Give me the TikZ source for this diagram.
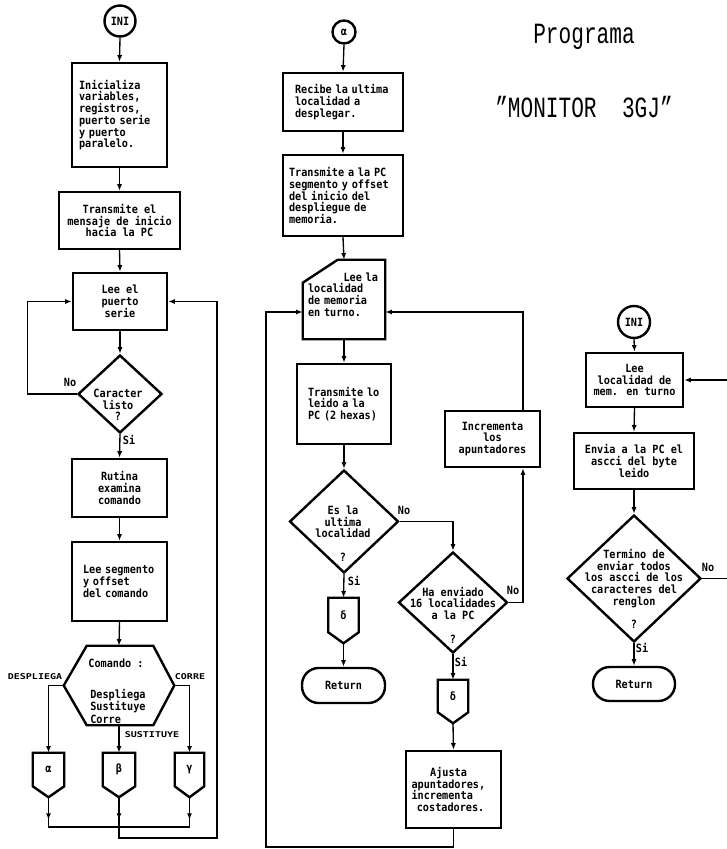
\documentclass[tikz,border=0pt]{standalone}
\usepackage{fontspec}
\newfontfamily\dotfont[FakeStretch=0.9]{DejaVu Sans Mono}
\newfontfamily\labfont[FakeStretch=1.25]{DejaVu Sans Mono}
\newfontfamily\twfont[FakeStretch=0.72]{Liberation Mono}
\usetikzlibrary{arrows.meta,calc,shapes.geometric,decorations.markings}
\tikzset{
  shp/.style={line width=1.8pt},
  con/.style={line width=1pt},
  arr/.style={con,-{Latex[length=5pt,width=3.8pt]}},
  midarr/.style={postaction={decorate},decoration={markings,mark=at position #1 with {\arrow{Latex[length=5pt,width=3.8pt]}}}},
  txt/.style={inner sep=0pt,font={\dotfont\bfseries\fontsize{8.5pt}{8.8pt}\selectfont}},
  tight/.style={inner sep=0pt,font={\dotfont\bfseries\fontsize{8.5pt}{7pt}\selectfont}},
  lab/.style={inner sep=0pt,font={\labfont\bfseries\fontsize{6pt}{7pt}\selectfont}},
  title/.style={inner sep=0pt,font={\twfont\fontsize{22pt}{24pt}\selectfont}},
  box/.style 2 args={draw,shp,rectangle,txt,minimum width=#1*0.75pt,minimum height=#2*0.75pt},
  dia/.style 2 args={draw,shp,diamond,inner sep=0pt,minimum width=#1*0.75pt,minimum height=#2*0.75pt},
  circ/.style={draw,shp,circle,txt,minimum size=#1*0.75pt},
  term/.style 2 args={draw,shp,rounded corners=12.5pt,txt,minimum width=#1*0.75pt,minimum height=#2*0.75pt},
  blank/.style 2 args={txt,minimum width=#1*0.75pt,minimum height=#2*0.75pt},
}
\newcommand\pentout[1]{\draw[shp] (#1.north west) -- (#1.north east) -- (#1.south east) -- ($(#1.south)+(0,11)$) -- (#1.south west) -- cycle;}
\begin{document}
\begin{tikzpicture}[x=0.75pt,y=-0.75pt]
\fill[white] (0,0) rectangle (726,849);
\useasboundingbox (0,0) rectangle (726,849);

% ---------------- left column ----------------
\node[circ=31] (ini1) at (120,21) {INI};
\node[box={95}{104},align=left,text width=81*0.75pt] (b1) at (119.5,115) {Inicializa\\variables,\\registros,\\puerto serie\\y puerto\\paralelo.};
\node[box={121}{57},align=center] (b2) at (119.5,220.5) {Transmite el\\mensaje de inicio\\hacia la PC};
\node[box={94}{57},align=center] (b3) at (120,301.5) {Lee el\\puerto\\serie};
\node[dia={84}{78}] (d1) at (120,394) {};
\node[txt,align=center] (d1t) at (118,405) {Caracter\\listo\\?};
\node[box={95}{58},align=center] (b4) at (119.5,488) {Rutina\\examina\\comando};
\node[box={95}{79},align=left,text width=73*0.75pt] (b5) at (119.5,581.5) {Lee segmento\\y offset\\del comando};
\node[blank={110}{79}] (hx) at (119,685.5) {};
\draw[shp] (hx.west) -- ($(hx.north west)+(23,0)$) -- ($(hx.north east)+(-21,0)$) -- (hx.east) -- ($(hx.south east)+(-21,0)$) -- ($(hx.south west)+(23,0)$) -- cycle;
\node[txt] (hxa) at (116,663) {Comando :};
\node[tight,align=left,anchor=west] (hxb) at (90,706) {Despliega\\Sustituye\\Corre};
\node[blank={31}{33}] (pa) at (48.5,769.5) {α};
\pentout{pa}
\node[blank={32}{33}] (pb) at (119,769.5) {β};
\pentout{pb}
\node[blank={29}{33}] (pc) at (189.5,769.5) {γ};
\pentout{pc}
\node[lab] (lD) at (35,677) {DESPLIEGA};
\node[lab] (lC) at (190,677) {CORRE};
\node[lab] (lS) at (152,735) {SUSTITUYE};
\node[txt] (no1) at (70,382) {No};
\node[txt] (si1) at (129,440) {Si};

\draw[arr] (ini1.south) -- (b1.north);
\draw[arr] (b1.south) -- (b2.north);
\draw[arr] (b2.south) -- (b3.north);
\draw[arr] (b3.south) -- (d1.north);
\draw[arr] (d1.west) -- ++(-49,0) |- (b3.west);
\draw[arr] (d1.south) -- (b4.north);
\draw[arr] (b4.south) -- (b5.north);
\draw[arr] (b5.south) -- (hx.north);
\draw[arr] (hx.west) -| (pa.north);
\draw[arr] (hx.east) -| (pc.north);
\draw[arr] (hx.south) -- (pb.north);
\coordinate (jl) at (48.5,827);
\coordinate (jr) at (189.5,827);
\coordinate (jb) at (119,838);
\coordinate (jrr) at (217,838);
\draw[con,midarr=17pt] ($(pa.south)+(0,11)$) -- (jl) -- (jr);
\draw[con,midarr=17pt] ($(pc.south)+(0,11)$) -- (jr);
\draw[arr,midarr=17pt] ($(pb.south)+(0,11)$) -- (jb) -- (jrr) |- (b3.east);

% ---------------- middle column ----------------
\node[circ=23] (ma) at (344,32) {α};
\node[box={120}{58},align=left,text width=96*0.75pt] (mb1) at (343,102) {Recibe la ultima\\localidad a\\desplegar.};
\node[box={120}{81},align=left,text width=108*0.75pt] (mb2) at (343,195.5) {Transmite a la PC\\segmento y offset\\del inicio del\\despliegue de\\memoria.};
\node[blank={82}{79}] (card) at (344,299.5) {};
\draw[shp] (card.south west) -- (card.south east) -- (card.north east) -- ($(card.north west)+(35,0)$) -- ($(card.north west)+(0,23)$) -- cycle;
\node[txt,align=left,text width=70*0.75pt] (cardt) at (343,294.5) {\hspace*{\fill}Lee la\\localidad\\de memoria\\en turno.};
\node[box={94}{80},align=left,text width=72*0.75pt] (mb3) at (344,404) {Transmite lo\\leido a la\\PC (2 hexas)};
\node[dia={109}{103}] (md1) at (344,521.5) {};
\node[txt,align=center] (md1t) at (343,533.5) {Es la\\ultima\\localidad\\[8.8pt]?};
\node[blank={30}{34}] (mp1) at (343.5,615) {δ};
\pentout{mp1}
\node[term={83}{35}] (mret) at (343.5,685.5) {Return};
\node[dia={109}{101}] (md2) at (453,602.5) {};
\node[txt,align=center] (md2t) at (453,615) {Ha enviado\\16 localidades\\a la PC\\[8.8pt]?};
\node[box={95}{56},align=center] (inc) at (492.5,439) {Incrementa\\los\\apuntadores};
\node[blank={30}{32}] (mp2) at (453,696) {δ};
\pentout{mp2}
\node[box={95}{77},align=left,text width=84*0.75pt] (aj) at (453.5,789.5) {\hspace*{14pt}Ajusta\\apuntadores,\\incrementa\\\hspace*{4pt}costadores.};
\node[txt] (no2) at (404,510) {No};
\node[txt] (si2) at (354,581) {Si};
\node[txt] (si3) at (461,662) {Si};
\node[txt] (no3) at (513,590) {No};

\draw[arr] (ma.south) -- (mb1.north);
\draw[arr] (mb1.south) -- (mb2.north);
\draw[arr] (mb2.south) -- (card.north);
\draw[arr] (card.south) -- (mb3.north);
\draw[arr] (mb3.south) -- (md1.north);
\draw[arr] (md1.south) -- (mp1.north);
\draw[arr] ($(mp1.south)+(0,11)$) -- (mret.north);
\draw[arr] (md1.east) -| (md2.north);
\draw[arr] (md2.south) -- (mp2.north);
\draw[arr] ($(mp2.south)+(0,11)$) -- (aj.north);
\coordinate (ix) at (523,0);
\coordinate (cy) at (0,312);
\draw[arr] (md2.east) -| (inc.south -| ix);
\draw[arr] (inc.north -| ix) |- (card.east |- cy);
\coordinate (lb) at (266,847);
\draw[arr] (aj.south) |- (lb) |- (card.west |- cy);

% ---------------- right column ----------------
\node[title] (t1) at (584,37) {Programa};
\node[title] (t2) at (584,107) {”MONITOR~~3GJ”};
\node[circ=32] (ini2) at (634,322) {INI};
\node[box={97}{54},align=center] (rb1) at (634.5,380) {Lee\\localidad de\\mem. en turno};
\node[box={120}{56},align=center] (rb2) at (634,461) {Envia a la PC el\\ascci del byte\\leido};
\node[dia={134}{127}] (rd) at (634,578.5) {};
\node[txt,align=center] (rdt) at (634,589) {Termino de\\enviar todos\\los ascci de los\\caracteres del\\renglon\\[8.8pt]?};
\node[term={82}{34}] (rret) at (634,684) {Return};
\node[txt] (no4) at (708,567) {No};
\node[txt] (si4) at (642,648) {Si};

\draw[arr] (ini2.south) -- (rb1.north);
\draw[arr] (rb1.south) -- (rb2.north);
\draw[arr] (rb2.south) -- (rd.north);
\draw[arr] (rd.south) -- (rret.north);
\coordinate (rx) at (729,0);
\draw[arr] (rd.east) -- (rd.east -| rx) |- (rb1.east);
\end{tikzpicture}
\end{document}
